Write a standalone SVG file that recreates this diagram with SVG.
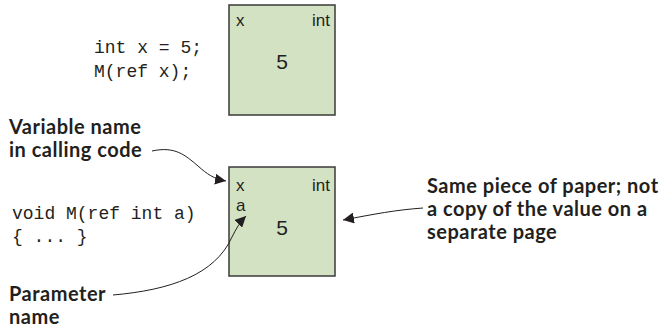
<svg xmlns="http://www.w3.org/2000/svg" width="669" height="328" viewBox="0 0 669 328">
<defs>
<style>
.box{fill:#d3e2c3;stroke:#3a3a3a;stroke-width:1.5}
.bt{font-family:"Liberation Sans",Arial,sans-serif;font-size:17px;fill:#231f20}
.val{font-family:"Liberation Sans",Arial,sans-serif;font-size:21px;fill:#231f20}
.code{font-family:"Liberation Mono","Courier New",monospace;font-size:18px;fill:#231f20}
.lbl{font-family:Lato,"Open Sans",sans-serif;font-weight:bold;font-size:20px;letter-spacing:0.5px;fill:#231f20}
.con{fill:none;stroke:#231f20;stroke-width:1}
</style>
<marker id="ah" viewBox="0 0 10 10" refX="10" refY="5" markerWidth="11" markerHeight="11" markerUnits="userSpaceOnUse" orient="auto">
<path d="M0,0 L10,5 L0,10 z" fill="#231f20"/>
</marker>
</defs>
<g id="code-top">
<text class="code" x="94" y="53">int x = 5;</text>
<text class="code" x="94" y="77">M(ref x);</text>
</g>
<g id="code-bottom">
<text class="code" x="12" y="219">void M(ref int a)</text>
<text class="code" x="12" y="242">{ ... }</text>
</g>
<g id="box-top">
<rect class="box" x="229" y="5" width="106" height="110"/>
<text class="bt" x="236" y="26">x</text>
<text class="bt" x="330" y="26" text-anchor="end">int</text>
<text class="val" x="282" y="69" text-anchor="middle">5</text>
</g>
<g id="box-bottom">
<rect class="box" x="229" y="167" width="106" height="109"/>
<text class="bt" x="236" y="191">x</text>
<text class="bt" x="236" y="211">a</text>
<text class="bt" x="330" y="191" text-anchor="end">int</text>
<text class="val" x="282" y="235" text-anchor="middle">5</text>
</g>
<g id="label-variable">
<text class="lbl" x="9" y="134">Variable name</text>
<text class="lbl" x="9" y="157">in calling code</text>
</g>
<g id="label-parameter">
<text class="lbl" x="9" y="301">Parameter</text>
<text class="lbl" x="9" y="324">name</text>
</g>
<g id="label-same">
<text class="lbl" x="427" y="193">Same piece of paper; not</text>
<text class="lbl" x="427" y="216">a copy of the value on a</text>
<text class="lbl" x="427" y="239">separate page</text>
</g>
<g id="connectors">
<path class="con" d="M152,151 C175,146 185,155 198,166 C207,174 214,179 226,181" marker-end="url(#ah)"/>
<path class="con" d="M113,295 C170,290 215,275 232,237 C236,229 240,222 246,216" marker-end="url(#ah)"/>
<path class="con" d="M423,208 C395,210 375,214 343,220" marker-end="url(#ah)"/>
</g>
</svg>
